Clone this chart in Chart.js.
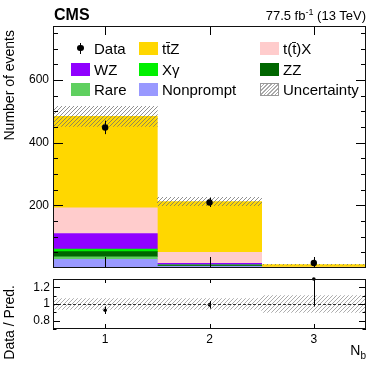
<!DOCTYPE html>
<html><head><meta charset="utf-8">
<script src="https://cdn.jsdelivr.net/npm/chart.js@4.4.1/dist/chart.umd.min.js"></script>
<style>
html,body{margin:0;padding:0;background:#fff}
body{width:382px;height:365px;overflow:hidden;position:relative;font-family:"Liberation Sans",Arial,Helvetica,sans-serif;color:#000}
canvas{position:absolute;left:0;top:0}
.t{position:absolute;white-space:nowrap;line-height:1}
.box{position:absolute;width:19px;height:13px}
.rot{position:absolute;transform-origin:0 0;transform:rotate(-90deg);text-align:right;white-space:nowrap;font-size:14px;line-height:14px}
</style></head>
<body>
<canvas id="main" width="382" height="365"></canvas>
<canvas id="ratio" width="382" height="365"></canvas>

<div class="t" style="left:54px;top:6.5px;font-size:16px;font-weight:bold">CMS</div>
<div class="t" style="right:16px;top:8.5px;font-size:13px">77.5 fb<sup style="font-size:9px;line-height:0;vertical-align:5px">-1</sup> (13 TeV)</div>

<div id="legend"></div>

<div class="rot" style="left:2px;top:250px;width:220px">Number of events</div>
<div class="rot" style="left:2px;top:405px;width:120px">Data / Pred.</div>
<div class="t" style="right:16px;top:343px;font-size:14px">N<span style="font-size:10px;position:relative;top:4px">b</span></div>

<script>
// ---------------- data ----------------
const categories = ['1', '2', '3'];
const nonprompt  = [28, 5, 0.4];
const rare       = [8, 1.5, 0.2];
const zz         = [16, 2, 0.2];
const xgamma     = [8, 1.5, 0.2];
const wz         = [50, 5, 0.5];
const ttx        = [82, 35, 1.5];
const ttz        = [292, 162, 8];
const uncertainty = [32, 13.5, 1.1];
const dataObs    = [448, 209, 16];
const dataErrLo  = [21, 14.5, 4];
const dataErrHi  = [22, 15, 5];
const ratioVals  = [0.925, 0.99, 1.3];
const ratioErrLo = [0.045, 0.045, 0.33];
const ratioErrHi = [0.045, 0.045, 0];
const ratioBand  = [0.066, 0.064, 0.10];
const mainYTicks  = [200, 400, 600];
const mainYMinor  = [50, 100, 150, 250, 300, 350, 450, 500, 550, 650, 700, 750];
const ratioYTicks = [0.8, 1, 1.2];
const ratioYMinor = [0.7, 0.9, 1.1, 1.3];
const mainYRange  = [0, 772];
const ratioYRange = [0.7, 1.3];

const FONT = '"Liberation Sans", Arial, Helvetica, sans-serif';

function hatch(color) {
  const c = document.createElement('canvas');
  c.width = 4; c.height = 4;
  const g = c.getContext('2d');
  g.strokeStyle = color; g.lineWidth = 0.9;
  g.beginPath();
  g.moveTo(0, 4); g.lineTo(4, 0);
  g.moveTo(-1, 1); g.lineTo(1, -1);
  g.moveTo(3, 5); g.lineTo(5, 3);
  g.stroke();
  return g.createPattern(c, 'repeat');
}

const layers = [
  { label: 'Nonprompt', values: nonprompt, color: '#9999ff' },
  { label: 'Rare',      values: rare,      color: '#5fd05f' },
  { label: 'ZZ',        values: zz,        color: '#006600' },
  { label: 'X\u03b3',   values: xgamma,    color: '#00f000' },
  { label: 'WZ',        values: wz,        color: '#9000ff' },
  { label: 't(t\u0304)X', values: ttx,     color: '#ffcccc' },
  { label: 'tt\u0304Z', values: ttz,       color: '#ffd700' }
];

let base = categories.map(() => 0);
const stackSets = layers.map(L => {
  const d = L.values.map((v, i) => [base[i], base[i] + v]);
  base = base.map((b, i) => b + L.values[i]);
  return { type: 'bar', label: L.label, data: d, backgroundColor: L.color, borderWidth: 0,
           grouped: false, barPercentage: 1, categoryPercentage: 1, order: 10 };
});
const total = base;

function hl(ctx, x1, y1, x2, y2) { ctx.beginPath(); ctx.moveTo(x1, y1); ctx.lineTo(x2, y2); ctx.stroke(); }

function axesPlugin(cfg) {
  return {
    id: 'axes_' + cfg.name,
    afterDatasetsDraw(chart) {
      const { ctx, chartArea: a, scales: { x, y } } = chart;
      ctx.save();
      ctx.strokeStyle = '#000'; ctx.lineWidth = 1;
      if (cfg.dashedOne) {
        ctx.save();
        ctx.setLineDash([3, 2]);
        ctx.strokeStyle = '#333';
        const py = Math.round(y.getPixelForValue(1)) + 0.5;
        hl(ctx, a.left, py, a.right, py);
        ctx.restore();
      }
      // error bars
      const meta = chart.getDatasetMeta(cfg.pointIndex);
      cfg.vals.forEach((v, i) => {
        const px = Math.round(meta.data[i].x) + 0.5;
        hl(ctx, px, y.getPixelForValue(v + cfg.hi[i]), px, y.getPixelForValue(v - cfg.lo[i]));
      });
      // y ticks
      cfg.yMajor.forEach(v => {
        const py = Math.round(y.getPixelForValue(v)) + 0.5;
        hl(ctx, a.left, py, a.left + cfg.yMaj, py);
        hl(ctx, a.right, py, a.right - cfg.yMaj, py);
      });
      cfg.yMinor.forEach(v => {
        const py = Math.round(y.getPixelForValue(v)) + 0.5;
        hl(ctx, a.left, py, a.left + cfg.yMin, py);
        hl(ctx, a.right, py, a.right - cfg.yMin, py);
      });
      // x ticks
      categories.forEach((c, i) => {
        const px = Math.round(x.getPixelForValue(i)) + 0.5;
        hl(ctx, px, a.bottom, px, a.bottom - cfg.xMaj);
        hl(ctx, px, a.top, px, a.top + cfg.xMajTop);
      });
      ctx.strokeStyle = '#111';
      ctx.strokeRect(a.left + 0.5, a.top + 0.5, a.right - a.left - 1, a.bottom - a.top - 1);
      ctx.restore();
    }
  };
}

// ---------------- main chart ----------------
new Chart(document.getElementById('main'), {
  data: {
    labels: categories,
    datasets: [
      { type: 'line', label: 'Data', data: dataObs, showLine: false, pointRadius: 3.2,
        pointBackgroundColor: '#000', pointBorderWidth: 0, order: 0 },
      { type: 'bar', label: 'Uncertainty', data: total.map((t, i) => [t - uncertainty[i], t + uncertainty[i]]),
        backgroundColor: hatch('rgba(110,110,110,0.85)'), borderWidth: 0, grouped: false,
        barPercentage: 1, categoryPercentage: 1, order: 5 },
      ...stackSets
    ]
  },
  options: {
    responsive: false, animation: false,
    layout: { padding: { top: 26, right: 16, bottom: 97, left: 0 } },
    plugins: { legend: { display: false }, tooltip: { enabled: false } },
    scales: {
      x: { type: 'category', display: false, offset: true },
      y: {
        type: 'linear', min: mainYRange[0], max: mainYRange[1],
        afterBuildTicks: s => { s.ticks = mainYTicks.map(v => ({ value: v })); },
        afterFit: s => { s.width = 53; },
        grid: { display: false, drawTicks: false },
        border: { display: false },
        ticks: { color: '#000', padding: 4, font: { family: FONT, size: 12 } }
      }
    }
  },
  plugins: [axesPlugin({ name: 'main', pointIndex: 0, vals: dataObs, lo: dataErrLo, hi: dataErrHi,
    yMajor: mainYTicks, yMinor: mainYMinor, yMaj: 10, yMin: 5, xMaj: 11, xMajTop: 9 })]
});

// ---------------- ratio chart ----------------
new Chart(document.getElementById('ratio'), {
  data: {
    labels: categories,
    datasets: [
      { type: 'line', label: 'Data / Pred.', data: ratioVals, showLine: false, pointRadius: 1.8,
        pointBackgroundColor: '#000', pointBorderWidth: 0, order: 0, clip: false },
      { type: 'bar', label: 'Band', data: ratioBand.map(u => [1 - u, 1 + u]),
        backgroundColor: hatch('rgba(140,140,140,0.8)'), borderWidth: 0, grouped: false,
        barPercentage: 1, categoryPercentage: 1, order: 5 }
    ]
  },
  options: {
    responsive: false, animation: false,
    layout: { padding: { top: 279, right: 16, bottom: 0, left: 0 } },
    plugins: { legend: { display: false }, tooltip: { enabled: false } },
    scales: {
      x: {
        type: 'category', offset: true,
        afterFit: s => { s.height = 36; },
        grid: { display: false, drawTicks: false },
        border: { display: false },
        ticks: { color: '#000', padding: 3, font: { family: FONT, size: 12 } }
      },
      y: {
        type: 'linear', min: ratioYRange[0], max: ratioYRange[1],
        afterBuildTicks: s => { s.ticks = ratioYTicks.map(v => ({ value: v })); },
        afterFit: s => { s.width = 53; },
        grid: { display: false, drawTicks: false },
        border: { display: false },
        ticks: { color: '#000', padding: 3, font: { family: FONT, size: 12 },
                 callback: v => String(v) }
      }
    }
  },
  plugins: [axesPlugin({ name: 'ratio', pointIndex: 0, vals: ratioVals, lo: ratioErrLo, hi: ratioErrHi,
    yMajor: ratioYTicks, yMinor: ratioYMinor, yMaj: 7, yMin: 3.5, xMaj: 5, xMajTop: 4, dashedOne: true })]
});

// ---------------- legend (HTML) ----------------
const legendItems = [
  { text: 'Data', kind: 'data', col: 0, row: 0 },
  { text: 'tt\u0304Z', color: '#ffd700', col: 1, row: 0 },
  { text: 't(t\u0304)X', color: '#ffcccc', col: 2, row: 0 },
  { text: 'WZ', color: '#9000ff', col: 0, row: 1 },
  { text: 'X\u03b3', color: '#00f000', col: 1, row: 1 },
  { text: 'ZZ', color: '#006600', col: 2, row: 1 },
  { text: 'Rare', color: '#5fd05f', col: 0, row: 2 },
  { text: 'Nonprompt', color: '#9999ff', col: 1, row: 2 },
  { text: 'Uncertainty', kind: 'hatch', col: 2, row: 2 }
];
const colBox = [71, 139, 260], colText = [94, 162, 283];
const rowCenter = [48.3, 69, 89.3];
const lg = document.getElementById('legend');
legendItems.forEach(it => {
  const cy = rowCenter[it.row];
  if (it.kind === 'data') {
    const ln = document.createElement('div');
    ln.style.cssText = `position:absolute;left:80px;top:${cy - 5.3}px;width:1px;height:10.6px;background:#000`;
    const dot = document.createElement('div');
    dot.style.cssText = `position:absolute;left:${80.5 - 3.2}px;top:${cy - 3.2}px;width:6.4px;height:6.4px;border-radius:50%;background:#000`;
    lg.appendChild(ln); lg.appendChild(dot);
  } else {
    const b = document.createElement('div');
    b.className = 'box';
    b.style.left = colBox[it.col] + 'px';
    b.style.top = (cy - 6.5) + 'px';
    if (it.kind === 'hatch') {
      b.style.boxSizing = 'border-box';
      b.style.border = '1px solid #999';
      b.style.background = 'repeating-linear-gradient(-45deg, #fff 0px, #fff 1.6px, #aaa 1.6px, #aaa 2.6px)';
    } else {
      b.style.background = it.color;
    }
    lg.appendChild(b);
  }
  const t = document.createElement('div');
  t.className = 't';
  t.style.cssText += `left:${colText[it.col]}px;top:${cy + 5.4 - 12.7}px;font-size:15px;line-height:15px`;
  t.textContent = it.text;
  lg.appendChild(t);
});
</script>
</body></html>
